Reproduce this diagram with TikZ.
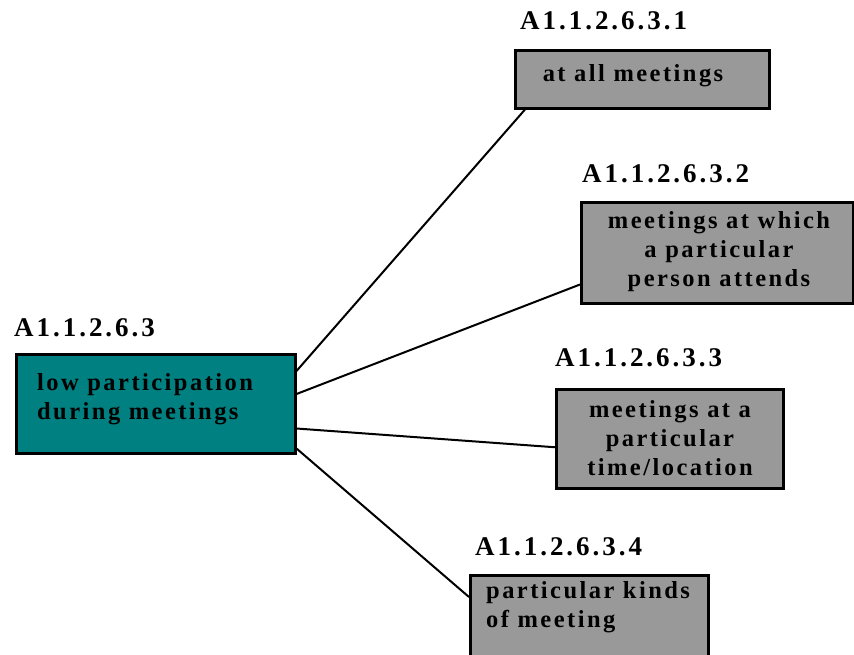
\documentclass[tikz,border=0pt]{standalone}
\usepackage{fontspec}
\setmainfont{Liberation Serif}[LetterSpace=10]
\newfontfamily\lblfont{Liberation Serif}[LetterSpace=11]
\definecolor{tealbox}{RGB}{0,128,128}
\definecolor{graybox}{RGB}{153,153,153}
\begin{document}
\begin{tikzpicture}[x=1pt,y=-1pt,
  box/.style={draw=black,line width=2.5pt,rectangle,anchor=north west,inner sep=0pt},
  txt/.style={font=\bfseries\fontsize{24.5}{29}\selectfont,inner sep=0pt},
  lbl/.style={font=\lblfont\bfseries\fontsize{27}{30}\selectfont,inner sep=0pt,anchor=west},
  conn/.style={line width=2pt,black}]
\useasboundingbox (0,0) rectangle (854,654);
\fill[white] (0,0) rectangle (854,654);
% boxes
\node[box,fill=tealbox,minimum width=279pt,minimum height=99pt] (main) at (15,353) {};
\node[box,fill=graybox,minimum width=254pt,minimum height=58pt] (b1) at (514,49) {};
\node[box,fill=graybox,minimum width=272pt,minimum height=101pt] (b2) at (580,201) {};
\node[box,fill=graybox,minimum width=227pt,minimum height=99pt] (b3) at (555,388) {};
\node[box,fill=graybox,minimum width=238pt,minimum height=90pt] (b4) at (469,574) {};
% texts
\node[txt,anchor=west,align=left] (tmain) at (37,399) {low participation\\during meetings};
\node[txt,align=center] (t1) at (633,76) {at all meetings};
\node[txt,align=center] (t2) at (719,252) {meetings at which\\a particular\\person attends};
\node[txt,align=center] (t3) at (670,438) {meetings at a\\particular\\time/location};
\node[txt,anchor=west,align=left] (t4) at (486,607) {particular kinds\\of meeting};
% labels
\node[lbl] (l0) at (14,328) {A1.1.2.6.3};
\node[lbl] (l1) at (520,21) {A1.1.2.6.3.1};
\node[lbl] (l2) at (582,174) {A1.1.2.6.3.2};
\node[lbl] (l3) at (555,358) {A1.1.2.6.3.3};
\node[lbl] (l4) at (475,547) {A1.1.2.6.3.4};
% connectors
\draw[conn] ([yshift=-18pt]main.north east) -- ([xshift=11pt]b1.south west);
\draw[conn] ([yshift=-41pt]main.north east) -- ([yshift=20pt]b2.south west);
\draw[conn] ([yshift=26pt]main.south east) -- ([yshift=-8.5pt]b3.west);
\draw[conn] ([yshift=6pt]main.south east) -- ([yshift=-23pt]b4.north west);
\end{tikzpicture}
\end{document}
